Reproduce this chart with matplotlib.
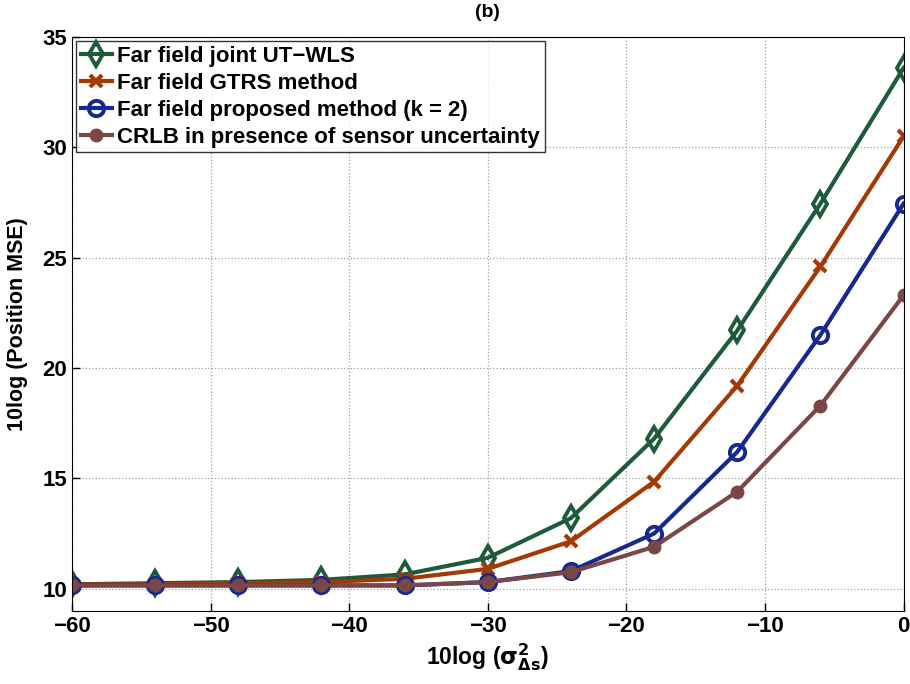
import matplotlib
matplotlib.use("Agg")
import matplotlib.pyplot as plt

plt.rcParams["font.family"] = ["Liberation Sans", "DejaVu Sans"]
plt.rcParams["font.weight"] = "bold"
plt.rcParams["mathtext.fontset"] = "dejavusans"
plt.rcParams["mathtext.default"] = "bf"

x_vals = [-60, -54, -48, -42, -36, -30, -24, -18, -12, -6, 0]
ut_wls = [10.2, 10.25, 10.3, 10.4, 10.65, 11.4, 13.2, 16.8, 21.7, 27.45, 33.6]
gtrs = [10.2, 10.2, 10.25, 10.3, 10.45, 10.9, 12.15, 14.85, 19.2, 24.6, 30.5]
proposed = [10.15, 10.15, 10.15, 10.15, 10.15, 10.3, 10.8, 12.5, 16.2, 21.5, 27.45]
crlb = [10.15, 10.15, 10.15, 10.15, 10.15, 10.3, 10.75, 11.9, 14.4, 18.3, 23.3]

labels = [
    "Far field joint UT\u2212WLS",
    "Far field GTRS method",
    "Far field proposed method (k = 2)",
    "CRLB in presence of sensor uncertainty",
]
colors = ["#1e5a3c", "#a33a05", "#17298f", "#7a4646"]

fig = plt.figure(figsize=(9.1, 6.84), dpi=100)
ax = fig.add_axes([0.079, 0.107, 0.914, 0.839])

lw = 3.0
ax.plot(x_vals, ut_wls, color=colors[0], lw=lw, marker="d", ms=12,
        mfc="none", mew=2.8, label=labels[0])
ax.plot(x_vals, gtrs, color=colors[1], lw=lw, marker="x", ms=8,
        mew=3, label=labels[1])
ax.plot(x_vals, proposed, color=colors[2], lw=lw, marker="o", ms=11,
        mfc="none", mew=2.8, label=labels[2])
ax.plot(x_vals, crlb, color=colors[3], lw=lw, marker="o", ms=9,
        label=labels[3])

ax.set_xlim(-60, 0)
ax.set_ylim(9, 35)
ax.set_xticks([-60, -50, -40, -30, -20, -10, 0])
ax.set_yticks([10, 15, 20, 25, 30, 35])
ax.tick_params(direction="in", labelsize=16, length=6, width=1)
for lab in ax.get_xticklabels() + ax.get_yticklabels():
    lab.set_fontweight("bold")
ax.grid(True, linestyle=":", color="#a0a0a0", linewidth=0.9)

ax.set_xlabel(r"10log ($\sigma^2_{\Delta s}$)", fontsize=16.5, fontweight="bold", labelpad=3)
ax.set_ylabel("10log (Position MSE)", fontsize=15.5, fontweight="bold", labelpad=10)
ax.set_title("(b)", fontsize=14, fontweight="bold", pad=14)

leg = ax.legend(loc="upper left", frameon=True, fancybox=False,
                edgecolor="black", borderpad=0.2, labelspacing=0.27,
                handlelength=1.4, handletextpad=0.25, borderaxespad=0.2,
                prop={"weight": "bold", "size": 16.0})
leg.get_frame().set_linewidth(1.0)

fig.savefig("out.png", dpi=100)
